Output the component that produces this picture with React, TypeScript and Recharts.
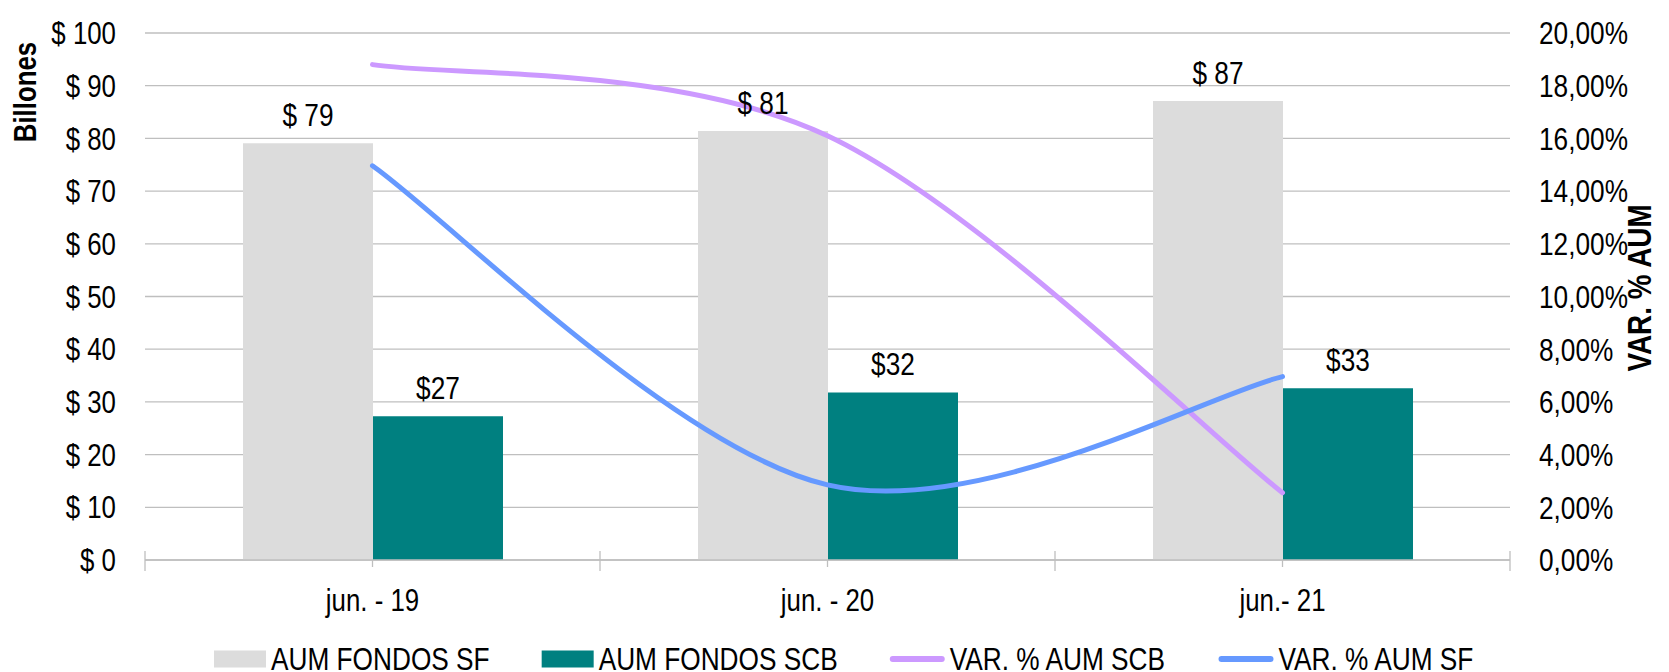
import {
  Bar,
  CartesianGrid,
  ComposedChart,
  Label,
  LabelList,
  Legend,
  Line,
  XAxis,
  YAxis,
} from 'recharts';

const categories = ['jun. - 19', 'jun. - 20', 'jun.- 21'];
const aumFondosSF = [79.1, 81.4, 87.1];
const aumFondosSCB = [27.3, 31.8, 32.6];
const varAumSCB = [0.188, 0.161, 0.0255];
const varAumSF = [0.1496, 0.0285, 0.0696];

const leftTicks = [0, 10, 20, 30, 40, 50, 60, 70, 80, 90, 100];
const rightTicks = [0, 0.02, 0.04, 0.06, 0.08, 0.1, 0.12, 0.14, 0.16, 0.18, 0.2];

// no narrow face installed, so squeeze Liberation Sans to look like Arial Narrow
const FONT = "'Liberation Sans', Arial, sans-serif";
const NARROW = 0.82;
const FS = 31.5;
const GRID = '#bfbfbf';
const GRAY = '#dcdcdc';
const TEAL = '#008080';
const PURPLE = '#cc99ff';
const BLUE = '#6699ff';

const W = 1669;
const H = 672;
const LEFT_W = 145;
const RIGHT_W = 159;
const BAND = (W - LEFT_W - RIGHT_W) / categories.length;

const chartData = categories.map((cat, i) => ({
  cat,
  sf: aumFondosSF[i],
  scb: aumFondosSCB[i],
  varScb: varAumSCB[i],
  varSf: varAumSF[i],
}));

// excel-style smoothing (catmull-rom through the points)
function excelCurve(context: any) {
  let pts: number[][] = [];
  return {
    areaStart() {},
    areaEnd() {},
    lineStart() {
      pts = [];
    },
    point(x: number, y: number) {
      pts.push([+x, +y]);
    },
    lineEnd() {
      const n = pts.length;
      if (!n) return;
      context.moveTo(pts[0][0], pts[0][1]);
      for (let i = 0; i < n - 1; i++) {
        const p0 = pts[Math.max(i - 1, 0)];
        const p1 = pts[i];
        const p2 = pts[i + 1];
        const p3 = pts[Math.min(i + 2, n - 1)];
        context.bezierCurveTo(
          p1[0] + (p2[0] - p0[0]) / 6,
          p1[1] + (p2[1] - p0[1]) / 6,
          p2[0] - (p3[0] - p1[0]) / 6,
          p2[1] - (p3[1] - p1[1]) / 6,
          p2[0],
          p2[1],
        );
      }
    },
  };
}

const fmtPct = (v: number) => (v * 100).toFixed(2).replace('.', ',') + '%';

let measureCtx: CanvasRenderingContext2D | null = null;
function textWidth(s: string, size: number) {
  if (!measureCtx) measureCtx = document.createElement('canvas').getContext('2d');
  if (!measureCtx) return s.length * size * 0.5;
  measureCtx.font = `${size}px ${FONT}`;
  return measureCtx.measureText(s).width * NARROW;
}

function NText({ x, y, anchor = 'middle', dy, rotate, bold, size = FS, children }: any) {
  const rot = rotate ? ` rotate(${rotate})` : '';
  return (
    <text
      transform={`translate(${x},${y})${rot} scale(${NARROW},1)`}
      textAnchor={anchor}
      dy={dy}
      fill="#000"
      fontSize={size}
      fontWeight={bold ? 'bold' : 'normal'}
      fontFamily={FONT}
    >
      {children}
    </text>
  );
}

function CategoryTick(props: any) {
  const { x, y, payload, index } = props;
  const axisY = y - 7;
  const edge = (ex: number) => (
    <line x1={ex} x2={ex} y1={axisY - 9} y2={axisY + 11} stroke={GRID} strokeWidth={1.3} />
  );
  return (
    <g>
      {edge(x - BAND / 2)}
      {index === categories.length - 1 && edge(x + BAND / 2)}
      <NText x={x} y={axisY + 51}>{payload.value}</NText>
    </g>
  );
}

const LeftTick = (p: any) => (
  <NText x={p.x} y={p.y} anchor="end" dy="0.355em">{`$ ${p.payload.value}`}</NText>
);
const RightTick = (p: any) => (
  <NText x={p.x} y={p.y} anchor="start" dy="0.355em" size={32}>{fmtPct(p.payload.value)}</NText>
);

const barLabel = (prefix: string) => (p: any) => (
  <NText x={p.x + p.width / 2} y={p.y - 17} size={32}>{`${prefix}${Math.round(p.value)}`}</NText>
);

const legendItems = [
  { name: 'AUM FONDOS SF', color: GRAY, kind: 'rect' },
  { name: 'AUM FONDOS SCB', color: TEAL, kind: 'rect' },
  { name: 'VAR. % AUM SCB', color: PURPLE, kind: 'line' },
  { name: 'VAR. % AUM SF', color: BLUE, kind: 'line' },
];

function ChartLegend() {
  const size = 32;
  const cy = 25;
  let cursor = 214;
  const items = legendItems.map((it) => {
    const sx = cursor;
    const sw = it.kind === 'rect' ? 52 : 55;
    const tx = sx + sw + 5;
    const tw = textWidth(it.name, size);
    cursor = tx + tw + 52;
    return (
      <g key={it.name}>
        {it.kind === 'rect' ? (
          <rect x={sx} y={cy - 8.5} width={sw} height={17} fill={it.color} />
        ) : (
          <line x1={sx + 3} x2={sx + sw - 3} y1={cy} y2={cy} stroke={it.color} strokeWidth={6} strokeLinecap="round" />
        )}
        <NText x={tx} y={cy} anchor="start" dy="0.355em" size={size}>{it.name}</NText>
      </g>
    );
  });
  return (
    <svg width={W} height={50} style={{ display: 'block' }}>
      {items}
    </svg>
  );
}

export default function App() {
  return (
    <div style={{ position: 'absolute', left: 0, top: 0, width: W, height: H, background: '#fff' }}>
      <ComposedChart
        width={W}
        height={H}
        data={chartData}
        margin={{ top: 33, right: 0, bottom: 0, left: 0 }}
        barGap={0}
      >
        <CartesianGrid yAxisId="left" vertical={false} stroke={GRID} strokeWidth={1.3} />
        <XAxis
          dataKey="cat"
          height={112}
          axisLine={{ stroke: GRID, strokeWidth: 1.3 }}
          tickLine={{ stroke: GRID, strokeWidth: 1.3 }}
          tickSize={7}
          tickMargin={0}
          interval={0}
          tick={<CategoryTick />}
        />
        <YAxis
          yAxisId="left"
          width={LEFT_W}
          domain={[0, 100]}
          ticks={leftTicks}
          interval={0}
          axisLine={false}
          tickLine={false}
          tickSize={0}
          tickMargin={29}
          tick={LeftTick}
        >
          <Label
            content={({ viewBox }: any) => (
              <NText x={viewBox.x + 25} y={viewBox.y + 59} rotate={-90} dy="0.355em" bold>
                Billones
              </NText>
            )}
          />
        </YAxis>
        <YAxis
          yAxisId="right"
          orientation="right"
          width={RIGHT_W}
          domain={[0, 0.2]}
          ticks={rightTicks}
          interval={0}
          axisLine={false}
          tickLine={false}
          tickSize={0}
          tickMargin={29}
          tick={RightTick}
        >
          <Label
            content={({ viewBox }: any) => (
              <NText x={viewBox.x + 129} y={viewBox.y + 255} rotate={-90} dy="0.355em" bold size={34}>
                VAR. % AUM
              </NText>
            )}
          />
        </YAxis>
        <Legend
          verticalAlign="middle"
          align="center"
          wrapperStyle={{ top: 634, left: 0, width: W, height: 50 }}
          content={<ChartLegend />}
        />
        <Bar yAxisId="left" dataKey="sf" name="AUM FONDOS SF" fill={GRAY} barSize={130} isAnimationActive={false}>
          <LabelList dataKey="sf" content={barLabel('$ ')} />
        </Bar>
        <Bar yAxisId="left" dataKey="scb" name="AUM FONDOS SCB" fill={TEAL} barSize={130} isAnimationActive={false}>
          <LabelList dataKey="scb" content={barLabel('$')} />
        </Bar>
        <Line
          yAxisId="right"
          dataKey="varScb"
          name="VAR. % AUM SCB"
          type={excelCurve as any}
          stroke={PURPLE}
          strokeWidth={5}
          strokeLinecap="round"
          dot={false}
          activeDot={false}
          isAnimationActive={false}
        />
        <Line
          yAxisId="right"
          dataKey="varSf"
          name="VAR. % AUM SF"
          type={excelCurve as any}
          stroke={BLUE}
          strokeWidth={5}
          strokeLinecap="round"
          dot={false}
          activeDot={false}
          isAnimationActive={false}
        />
      </ComposedChart>
    </div>
  );
}
